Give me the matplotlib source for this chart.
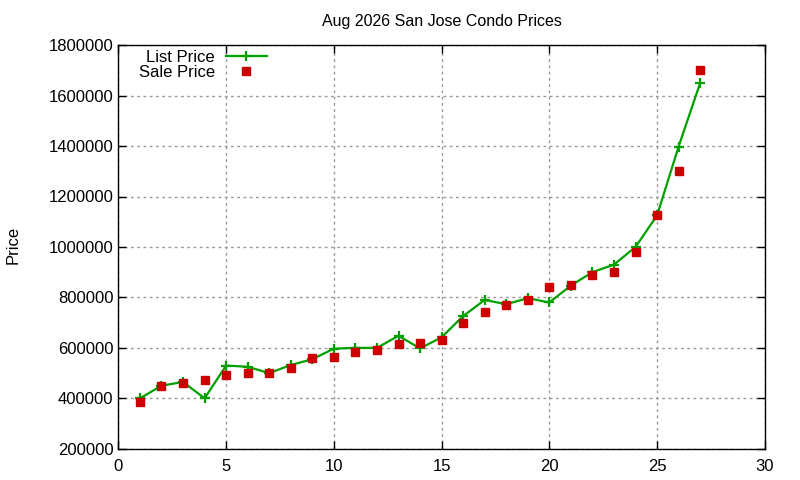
import matplotlib.pyplot as plt
import numpy as np

plt.rcParams['font.family'] = ['Liberation Sans', 'DejaVu Sans']

days = np.arange(1, 28)
list_price = [400000, 450000, 465000, 400000, 530000, 525000, 500000, 532000, 555000, 597000,
              600000, 600000, 648000, 598000, 642000, 726000, 790000, 773000, 797000, 780000,
              847000, 900000, 930000, 1000000, 1125000, 1398000, 1650000]
sale_price = [387000, 449000, 461000, 472000, 492000, 501000, 500000, 521000, 560000, 565000,
              585000, 592000, 616000, 619000, 631000, 700000, 743000, 771000, 790000, 841000,
              849000, 889000, 901000, 981000, 1127000, 1303000, 1703000]

fig = plt.figure(figsize=(8, 4.8), dpi=100)
ax = fig.add_axes([0.148, 0.065, 0.808, 0.841])

ax.plot(days, list_price, color='#00a000', lw=1.6, marker='+', ms=7.5, mew=1.6, label='List Price')
ax.plot(days, sale_price, ls='none', color='#cc0000', marker='s', ms=6, label='Sale Price')

ax.set_xlim(0, 30)
ax.set_ylim(200000, 1800000)
ax.set_xticks(np.arange(0, 31, 5))
ax.set_yticks(np.arange(200000, 1800001, 200000))
ax.ticklabel_format(style='plain', axis='y', useOffset=False)
ax.tick_params(direction='in', top=True, right=True, length=6, width=1, labelsize=12)
ax.tick_params(axis='x', pad=7)
ax.grid(True, ls=(0, (2, 2.5)), color='#999999', lw=1)
for s in ax.spines.values():
    s.set_linewidth(1)

ax.set_title('Aug 2026 San Jose Condo Prices', fontsize=11.5, pad=14)
fig.text(0.016, 0.49, 'Price', rotation=90, fontsize=12, va='center', ha='center')

ax.legend(loc='upper left', bbox_to_anchor=(0.008, 1.025), frameon=False, markerfirst=False,
          fontsize=12, handlelength=2.5, handletextpad=0.65, labelspacing=0.0, numpoints=1)

fig.savefig('out.png', dpi=100)
